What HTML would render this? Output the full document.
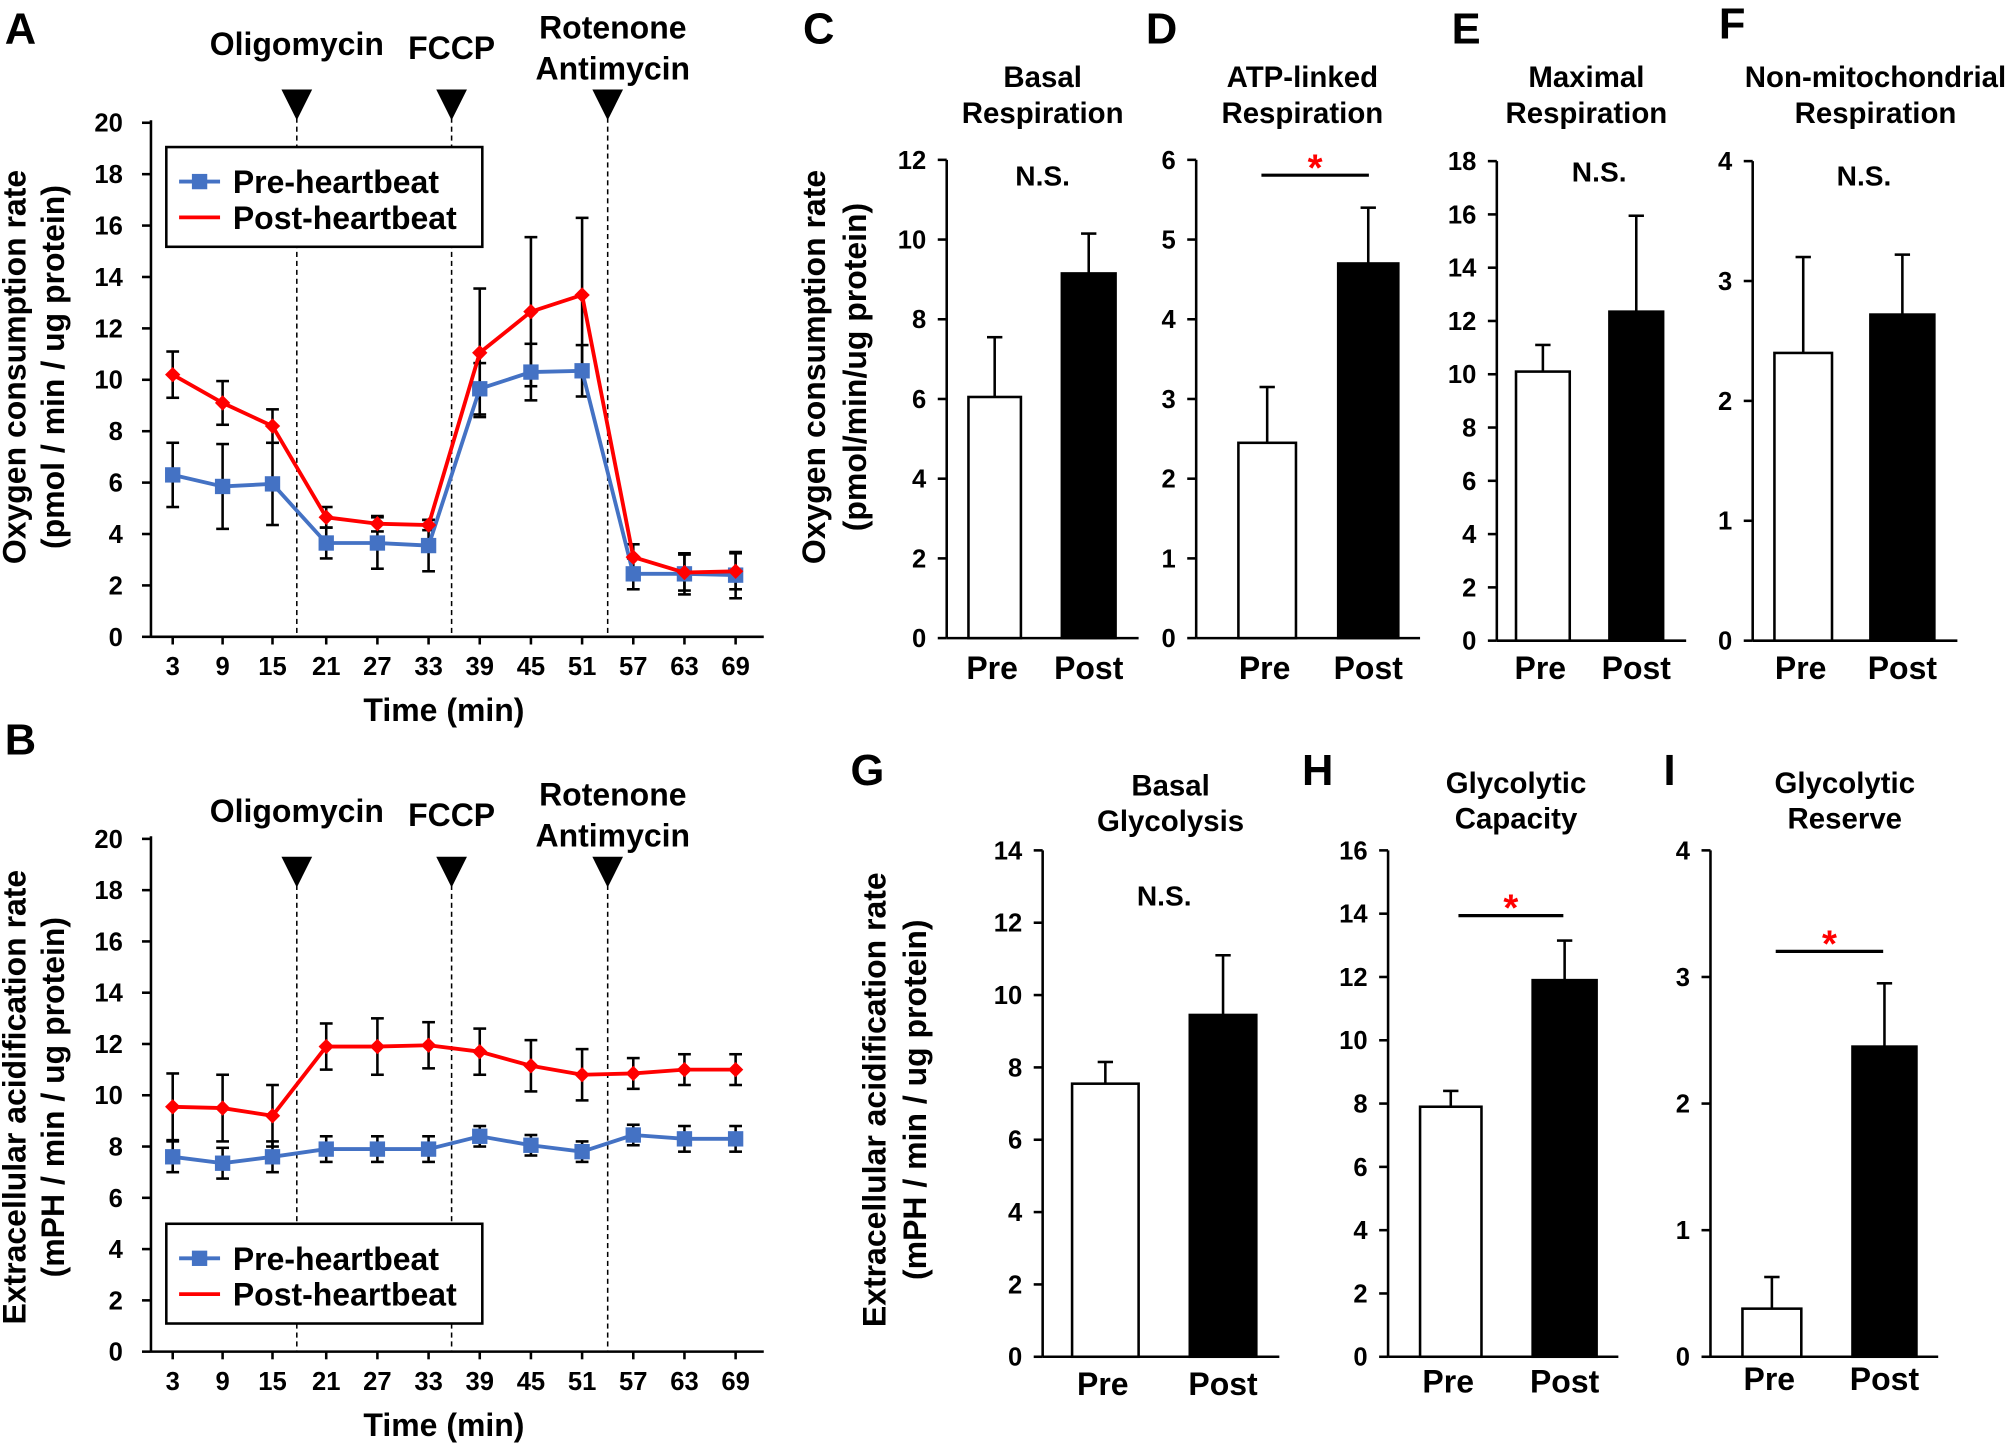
<!DOCTYPE html>
<html><head><meta charset="utf-8"><style>
html,body{margin:0;padding:0;background:#fff;}
svg{display:block;}
text{font-family:"Liberation Sans",Arial,sans-serif;font-weight:bold;fill:#000;}
</style></head><body>
<svg id="s" width="2006" height="1445" viewBox="0 0 1568 1130" preserveAspectRatio="none" xmlns="http://www.w3.org/2000/svg"></svg>
<script>
const S=document.getElementById('s');let h='';
function t(x,y,s,sz,anc,fill,rot){h+=`<text x="${x}" y="${y}" font-size="${sz||22}" text-anchor="${anc||'middle'}"${fill?` style="fill:${fill}"`:''}${rot?` transform="rotate(-90 ${x} ${y})"`:''}>${s}</text>`;}
function l(x1,y1,x2,y2,c,w,d){h+=`<line x1="${x1}" y1="${y1}" x2="${x2}" y2="${y2}" stroke="${c||'#000'}" stroke-width="${w||2}"${d?` stroke-dasharray="${d}"`:''}/>`;}
function r(x,y,w,hh,f){h+=`<rect x="${x}" y="${y}" width="${w}" height="${hh}" fill="${f}" stroke="#000" stroke-width="2"/>`;}
const XS=[135,174,213,255,295,335,375,415,455,495,535,575],XL=[3,9,15,21,27,33,39,45,51,57,63,69];
function line(y0,y20,blue,be,red,re,legY,top){
 const Y=v=>y0-(y0-y20)*v/20;
 l(118,y20-2,118,y0);l(118,y0,597,y0);
 for(let v=0;v<=20;v+=2){l(111,Y(v),118,Y(v));t(96,Y(v)+7,v,20,'end');}
 XS.forEach((x,i)=>{l(x,y0,x,y0+6);t(x,y0+30,XL[i],20);});
 t(347,y0+66,'Time (min)',25);
 [232,353,475].forEach(x=>{l(x,top+20,x,y0,'#000',1.2,'4,3');h+=`<polygon points="${x-12},${top-2} ${x+12},${top-2} ${x},${top+22}" fill="#000"/>`;});
 t(232,top-29,'Oligomycin',25);t(353,top-26,'FCCP',25);t(479,top-42,'Rotenone',25);t(479,top-10,'Antimycin',25);
 [[blue,be],[red,re]].forEach(([d,e])=>d.forEach((v,i)=>{const x=XS[i];l(x,Y(v-e[i]),x,Y(v+e[i]));l(x-5,Y(v-e[i]),x+5,Y(v-e[i]));l(x-5,Y(v+e[i]),x+5,Y(v+e[i]));}));
 h+=`<polyline points="${blue.map((v,i)=>XS[i]+','+Y(v)).join(' ')}" fill="none" stroke="#4472C4" stroke-width="3"/>`;
 blue.forEach((v,i)=>h+=`<rect x="${XS[i]-6}" y="${Y(v)-6}" width="12" height="12" fill="#4472C4"/>`);
 h+=`<polyline points="${red.map((v,i)=>XS[i]+','+Y(v)).join(' ')}" fill="none" stroke="#f00" stroke-width="3"/>`;
 red.forEach((v,i)=>h+=`<polygon points="${XS[i]},${Y(v)-6} ${XS[i]+6},${Y(v)} ${XS[i]},${Y(v)+6} ${XS[i]-6},${Y(v)}" fill="#f00"/>`);
 h+=`<rect x="130" y="${legY}" width="247" height="78" fill="#fff" stroke="#000" stroke-width="2"/>`;
 l(140,legY+27,172,legY+27,'#4472C4',3);h+=`<rect x="150" y="${legY+21}" width="12" height="12" fill="#4472C4"/>`;
 t(182,legY+36,'Pre-heartbeat',25,'start');
 l(140,legY+55,172,legY+55,'#f00',3);t(182,legY+64,'Post-heartbeat',25,'start');
}
line(498,96,[6.3,5.85,5.95,3.65,3.65,3.55,9.65,10.3,10.35,2.45,2.45,2.4],[1.25,1.65,1.6,0.6,1.0,1.0,1.0,1.1,1.0,0.6,0.8,0.9],
 [10.2,9.1,8.2,4.65,4.4,4.35,11.05,12.65,13.3,3.1,2.5,2.55],[0.9,0.85,0.65,0.4,0.3,0.2,2.5,2.9,3.0,0.5,0.7,0.7],115,72);
line(1057,656,[7.6,7.35,7.6,7.9,7.9,7.9,8.4,8.05,7.8,8.45,8.3,8.3],[0.6,0.6,0.6,0.5,0.5,0.5,0.4,0.4,0.4,0.4,0.5,0.5],
 [9.55,9.5,9.2,11.9,11.9,11.95,11.7,11.15,10.8,10.85,11.0,11.0],[1.3,1.3,1.2,0.9,1.1,0.9,0.9,1.0,1.0,0.6,0.6,0.6],957,672);
t(16,34,'A',34);t(16,590,'B',34);
t(20,287,'Oxygen consumption rate',25,'middle',0,1);t(50,287,'(pmol / min / ug protein)',25,'middle',0,1);
t(20,858,'Extracellular acidification rate',25,'middle',0,1);t(50,858,'(mPH / min / ug protein)',25,'middle',0,1);
function bar(ax,y0,yt,max,step,xe,pre,post,labY,title,ty,sig,sy){
 const Y=v=>y0-(y0-yt)*v/max;
 l(ax,yt,ax,y0);l(ax,y0,xe,y0);
 for(let v=0;v<=max+1e-9;v+=step){l(ax-7,Y(v),ax,Y(v));t(ax-16,Y(v)+7,v,20,'end');}
 [[pre,'#fff','Pre'],[post,'#000','Post']].forEach(([p,f,n])=>{const [x1,x2,v,e]=p;const cx=(x1+x2)/2;
  l(cx,Y(v),cx,Y(v+e));l(cx-6,Y(v+e),cx+6,Y(v+e));r(x1,Y(v),x2-x1,y0-Y(v),f);t(cx+(n=='Pre'?-2:0),labY,n,25);});
 const tc=title[2];t(tc,ty,title[0],23);t(tc,ty+28,title[1],23);
 if(sig=='ns')t(sy[0],sy[1],'N.S.',22);
 else if(sig){l(sig[0],sig[1],sig[2],sig[1],'#000',2.5);t((sig[0]+sig[2])/2,sig[1]+4,'*',30,'middle','#f00');}
}
bar(740,499,125,12,2,890,[757,798,6.05,1.5],[830,872,9.15,1.0],531,['Basal','Respiration',815],68,'ns',[815,145]);
bar(935,499,125,6,1,1110,[968,1013,2.45,0.7],[1046,1093,4.7,0.7],531,['ATP-linked','Respiration',1018],68,[986,137,1070]);
bar(1170,501,126,18,2,1318,[1185,1227,10.1,1.0],[1258,1300,12.35,3.6],531,['Maximal','Respiration',1240],68,'ns',[1250,142]);
bar(1370,501,126,4,1,1530,[1387,1432,2.4,0.8],[1462,1512,2.72,0.5],531,['Non-mitochondrial','Respiration',1466],68,'ns',[1457,145]);
bar(815,1061,665,14,2,1000,[838,890,7.55,0.6],[930,982,9.45,1.65],1091,['Basal','Glycolysis',915],622,'ns',[910,708]);
bar(1085,1061,665,16,2,1265,[1110,1158,7.9,0.5],[1198,1248,11.9,1.25],1089,['Glycolytic','Capacity',1185],620,[1140,716,1222]);
bar(1337,1061,665,4,1,1515,[1362,1408,0.38,0.25],[1448,1498,2.45,0.5],1087,['Glycolytic','Reserve',1442],620,[1388,744,1472]);
t(640,34,'C',34);t(908,34,'D',34);t(1146,34,'E',34);t(1354,30,'F',34);
t(678,614,'G',34);t(1030,614,'H',34);t(1305,614,'I',34);
t(645,287,'Oxygen consumption rate',25,'middle',0,1);t(677,287,'(pmol/min/ug protein)',25,'middle',0,1);
t(692,860,'Extracellular acidification rate',25,'middle',0,1);t(724,860,'(mPH / min / ug protein)',25,'middle',0,1);
S.innerHTML=h;
</script>
</body></html>
